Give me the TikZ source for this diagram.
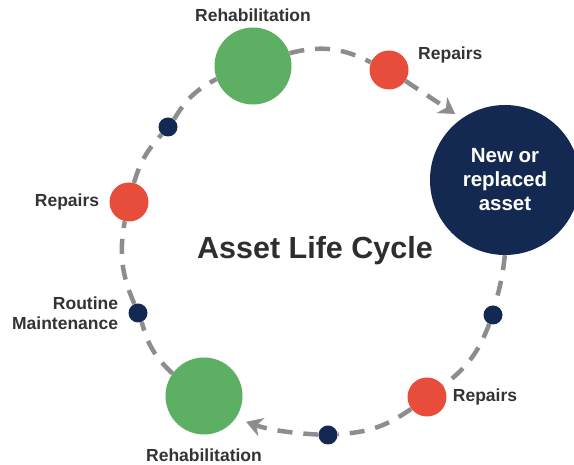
\documentclass[tikz,border=0pt]{standalone}
\usepackage{fontspec}
\setmainfont{Liberation Sans}
\usetikzlibrary{arrows.meta,positioning}

\definecolor{rehabgreen}{RGB}{92,175,99}
\definecolor{repairred}{RGB}{231,77,58}
\definecolor{assetnavy}{RGB}{20,41,82}
\definecolor{ringgray}{RGB}{141,141,141}
\definecolor{labelgray}{RGB}{51,51,51}

\tikzset{
    disc/.style={circle, inner sep=0pt, draw=none},
    rehab/.style={disc, fill=rehabgreen, minimum size=77pt},
    repair/.style={disc, fill=repairred, minimum size=39pt},
    checkpoint/.style={disc, fill=assetnavy, minimum size=19pt},
    newasset/.style={disc, fill=assetnavy, minimum size=150pt, text=white, align=center,
        font=\bfseries\fontsize{20.5}{24}\selectfont},
    lbl/.style={inner sep=0pt, text=labelgray, font=\bfseries\fontsize{17.5}{20}\selectfont},
    title/.style={inner sep=0pt, text=labelgray!90!black, font=\bfseries\fontsize{30.5}{34}\selectfont},
    ring/.style={draw=ringgray, line width=4.5pt, dash pattern=on 15pt off 11pt},
    ringarrow/.style={ring, -{Stealth[length=16pt,width=19pt,inset=5pt]}}
}

\begin{document}
\begin{tikzpicture}[x=1pt,y=1pt]
    \useasboundingbox (0,0) rectangle (574,465);
    % stages round the cycle
    \node[rehab] (G1) at (253,399) {};
    \node[repair] (R1) at (389,395) {};
    \node[newasset] (N) at (505,285) {New or\\replaced\\asset};
    \node[checkpoint] (D1) at (493,150) {};
    \node[repair] (R2) at (427,68) {};
    \node[checkpoint] (D2) at (328,30) {};
    \node[rehab] (G2) at (204,69) {};
    \node[checkpoint] (D3) at (138,152) {};
    \node[repair] (R3) at (129,263) {};
    \node[checkpoint] (D4) at (168,338) {};
    % dashed ring
    \draw[ring] (G1) to[bend left=21] (R1);
    \draw[ringarrow, shorten >=8pt] (R1) -- (N.125);
    \draw[ring] (N) to[bend left=5] (D1);
    \draw[ring] (D1) to[bend left=16] (R2);
    \draw[ring] (R2) to[bend left=16] (D2);
    \draw[ringarrow, shorten >=11pt] (D2) to[bend left=8] (G2.-35);
    \draw[ring] (G2) to[bend left=16] (D3);
    \draw[ring] (D3) to[bend left=17] (R3);
    \draw[ring] (R3) to[bend left=13] (D4);
    \draw[ring] (D4) to[bend left=16] (G1);
    % labels
    \node[lbl, above=5pt of G1] (lG1) {Rehabilitation};
    \node[lbl, anchor=west] (lR1) at (418,410) {Repairs};
    \node[lbl, right=6pt of R2] (lR2) {Repairs};
    \node[lbl, below=14pt of G2] (lG2) {Rehabilitation};
    \node[lbl, left=10pt of D3, align=right] (lD3) {Routine\\Maintenance};
    \node[lbl, left=10pt of R3] (lR3) {Repairs};
    \node[title] (T) at (315,214) {Asset Life Cycle};
\end{tikzpicture}
\end{document}
